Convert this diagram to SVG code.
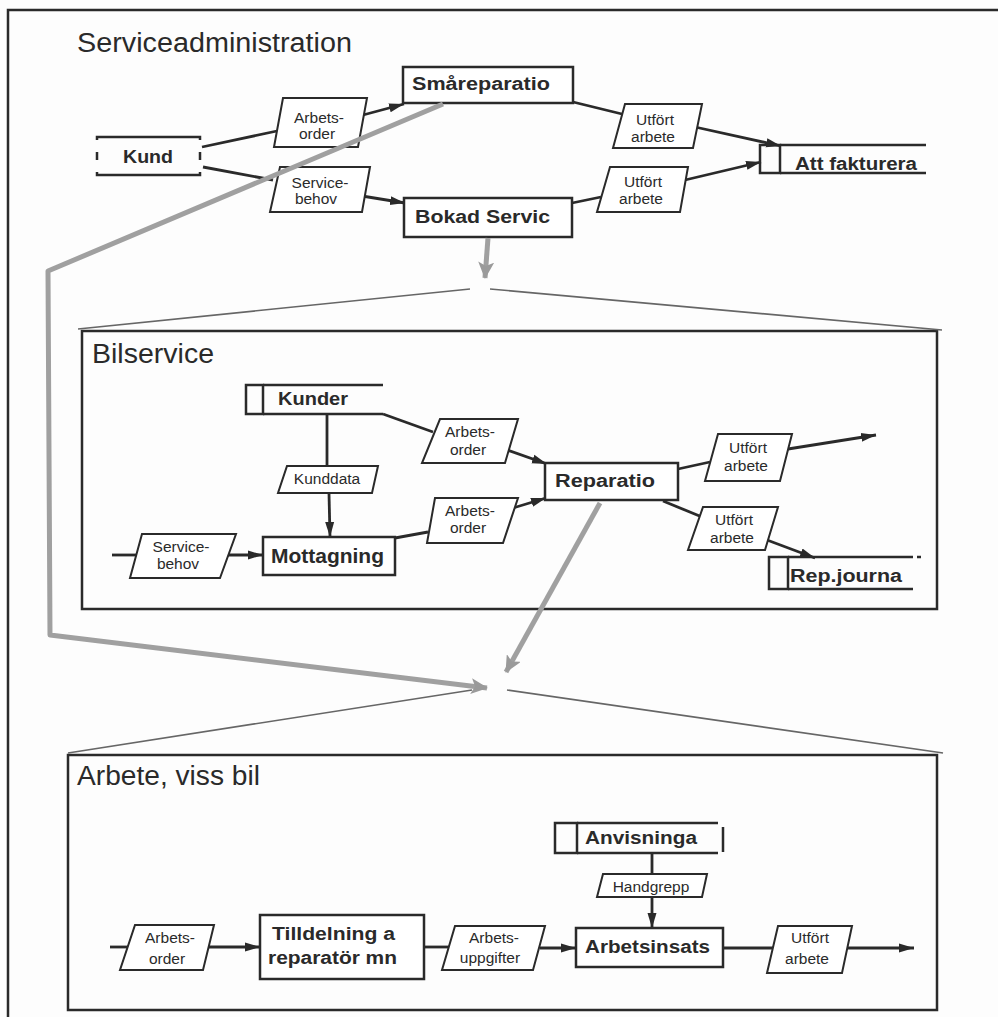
<svg xmlns="http://www.w3.org/2000/svg" width="998" height="1017" viewBox="0 0 998 1017">
<defs>
<marker id="ah" markerUnits="userSpaceOnUse" markerWidth="16" markerHeight="11" refX="15" refY="5.5" orient="auto">
<path d="M0,1 L15,5.5 L0,10 z" fill="#2a2a2a"/>
</marker>
<marker id="gah" markerUnits="userSpaceOnUse" markerWidth="18" markerHeight="16" refX="16" refY="8" orient="auto">
<path d="M0,0 L17,8 L0,16 L4,8 z" fill="#9a9a9a"/>
</marker>
<style>
.frame{fill:none;stroke:#2a2a2a;stroke-width:2.5}
.box{fill:#fff;stroke:#2a2a2a;stroke-width:2.5}
.par{fill:#fff;stroke:#2a2a2a;stroke-width:2}
.st{fill:none;stroke:#2a2a2a;stroke-width:2.5}
.flow{fill:none;stroke:#2a2a2a;stroke-width:2.8}
.arr{marker-end:url(#ah)}
.gray{fill:none;stroke:#a0a0a0;stroke-width:5;stroke-linejoin:round}
.zl{fill:none;stroke:#666;stroke-width:1.6}
.title{font-family:"Liberation Sans",Arial,sans-serif;font-size:27px;fill:#2a2a2a}
.lbl{font-family:"Liberation Sans",Arial,sans-serif;font-size:18px;font-weight:bold;fill:#2a2a2a}
.sm{font-family:"Liberation Sans",Arial,sans-serif;font-size:15.5px;fill:#2a2a2a;text-anchor:middle}
</style>
</defs>
<rect width="998" height="1017" fill="#fdfdfd"/>
<path class="frame" d="M8,1017 L8,10 L998,10"/>

<g id="sec-serviceadministration">
<text class="title" x="77" y="52" textLength="275" lengthAdjust="spacingAndGlyphs">Serviceadministration</text>
</g>
<g id="sec-bilservice">
<rect class="frame" x="82" y="331" width="855" height="278"/>
<text class="title" x="92" y="363" textLength="122" lengthAdjust="spacingAndGlyphs">Bilservice</text>
</g>
<g id="sec-arbete">
<rect class="frame" x="68" y="755" width="869" height="255"/>
<text class="title" x="77" y="785" textLength="183" lengthAdjust="spacingAndGlyphs">Arbete, viss bil</text>
</g>

<g id="connectors">
<path class="flow" d="M202,147 L277,131"/>
<path class="flow arr" d="M363,115 L404,104"/>
<path class="flow" d="M203,167 L273,180"/>
<path class="flow arr" d="M362,196 L405,203"/>
<path class="flow" d="M573,102 L622,114"/>
<path class="flow arr" d="M695,127 L781,146"/>
<path class="flow" d="M572,203 L601,197"/>
<path class="flow arr" d="M685,180 L761,162"/>

<path class="flow" d="M383,414 L433,432"/>
<path class="flow arr" d="M507,450 L547,464"/>
<path class="flow" d="M327,414 L327,466"/>
<path class="flow arr" d="M329,493 L330,537"/>
<path class="flow" d="M112,555 L137,555"/>
<path class="flow arr" d="M225,555 L263,555"/>
<path class="flow" d="M395,538 L428,532"/>
<path class="flow arr" d="M513,508 L546,498"/>
<path class="flow" d="M678,469 L710,462"/>
<path class="flow arr" d="M788,449 L876,435"/>
<path class="flow" d="M663,501 L702,517"/>
<path class="flow arr" d="M767,540 L815,558"/>

<path class="flow" d="M110,947 L130,947"/>
<path class="flow arr" d="M208,947 L260,947"/>
<path class="flow" d="M424,947 L450,947"/>
<path class="flow arr" d="M540,948 L576,948"/>
<path class="flow" d="M652,853 L652,874"/>
<path class="flow arr" d="M652,897 L652,928"/>
<path class="flow" d="M723,948 L773,948"/>
<path class="flow arr" d="M847,948 L914,948"/>
</g>

<g id="kund">
<path class="st" d="M97,140 L97,137 L200,137 L200,140 M97,172 L97,175 L200,175 L200,172 M97,152 L97,160 M200,152 L200,160"/>
<text class="lbl" x="123" y="163" textLength="50" lengthAdjust="spacingAndGlyphs">Kund</text>
</g>
<g id="smareparatio">
<rect class="box" x="403" y="67" width="170" height="36"/>
<text class="lbl" x="412" y="90" textLength="138" lengthAdjust="spacingAndGlyphs">Småreparatio</text>
</g>
<g id="bokad-servic">
<rect class="box" x="404" y="198" width="168" height="39"/>
<text class="lbl" x="415" y="223" textLength="135" lengthAdjust="spacingAndGlyphs">Bokad Servic</text>
</g>
<g id="att-fakturera">
<rect class="st" x="760" y="145" width="20" height="28"/>
<path class="st" d="M780,145 L926,145 M780,173 L926,173"/>
<text class="lbl" x="795" y="170" textLength="122" lengthAdjust="spacingAndGlyphs">Att fakturera</text>
</g>
<g id="ao1">
<polygon class="par" points="283,98 367,98 358,147 274,147"/>
<text class="sm" x="319" y="123">Arbets-</text>
<text class="sm" x="317" y="139">order</text>
</g>
<g id="sb1">
<polygon class="par" points="280,167 370,167 362,212 270,212"/>
<text class="sm" x="320" y="188">Service-</text>
<text class="sm" x="316" y="204">behov</text>
</g>
<g id="ua1">
<polygon class="par" points="625,104 702,104 693,148 613,148"/>
<text class="sm" x="655" y="125">Utfört</text>
<text class="sm" x="653" y="142">arbete</text>
</g>
<g id="ua2">
<polygon class="par" points="610,167 688,167 680,212 597,212"/>
<text class="sm" x="643" y="187">Utfört</text>
<text class="sm" x="641" y="204">arbete</text>
</g>

<g id="kunder">
<rect class="st" x="246" y="385" width="17" height="29"/>
<path class="st" d="M263,385 L383,385 M263,414 L383,414"/>
<text class="lbl" x="278" y="405" textLength="70" lengthAdjust="spacingAndGlyphs">Kunder</text>
</g>
<g id="kunddata">
<polygon class="par" points="287,466 378,466 372,493 278,493"/>
<text class="sm" x="327" y="484">Kunddata</text>
</g>
<g id="mottagning">
<rect class="box" x="263" y="537" width="132" height="38"/>
<text class="lbl" style="font-size:20px" x="271" y="563" textLength="113" lengthAdjust="spacingAndGlyphs">Mottagning</text>
</g>
<g id="sb2">
<polygon class="par" points="142,534 236,534 220,578 130,578"/>
<text class="sm" x="181" y="552">Service-</text>
<text class="sm" x="178" y="569">behov</text>
</g>
<g id="ao2">
<polygon class="par" points="440,419 518,419 505,463 422,463"/>
<text class="sm" x="470" y="437">Arbets-</text>
<text class="sm" x="468" y="455">order</text>
</g>
<g id="ao3">
<polygon class="par" points="435,498 518,498 503,543 427,543"/>
<text class="sm" x="470" y="516">Arbets-</text>
<text class="sm" x="468" y="533">order</text>
</g>
<g id="reparatio">
<rect class="box" x="545" y="463" width="133" height="37"/>
<text class="lbl" x="555" y="487" textLength="100" lengthAdjust="spacingAndGlyphs">Reparatio</text>
</g>
<g id="ua3">
<polygon class="par" points="718,434 792,434 780,481 705,481"/>
<text class="sm" x="748" y="453">Utfört</text>
<text class="sm" x="746" y="471">arbete</text>
</g>
<g id="ua4">
<polygon class="par" points="703,507 778,507 765,550 688,550"/>
<text class="sm" x="734" y="525">Utfört</text>
<text class="sm" x="732" y="543">arbete</text>
</g>
<g id="rep-journa">
<rect class="st" x="769" y="557" width="19" height="32"/>
<path class="st" d="M788,557 L913,557 M917,557 L921,557 M788,589 L913,589"/>
<text class="lbl" x="790" y="582" textLength="112" lengthAdjust="spacingAndGlyphs">Rep.journa</text>
</g>

<g id="ao4">
<polygon class="par" points="135,925 214,925 203,970 120,970"/>
<text class="sm" x="170" y="943">Arbets-</text>
<text class="sm" x="167" y="964">order</text>
</g>
<g id="tilldelning">
<rect class="box" x="260" y="915" width="164" height="64"/>
<text class="lbl" x="272" y="940" textLength="123" lengthAdjust="spacingAndGlyphs">Tilldelning a</text>
<text class="lbl" x="268" y="964" textLength="129" lengthAdjust="spacingAndGlyphs">reparatör mn</text>
</g>
<g id="au">
<polygon class="par" points="455,926 545,926 533,970 442,970"/>
<text class="sm" x="494" y="943">Arbets-</text>
<text class="sm" x="490" y="963">uppgifter</text>
</g>
<g id="anvisninga">
<rect class="st" x="555" y="823" width="22" height="30"/>
<path class="st" d="M577,823 L718,823 M577,853 L718,853 M723,827 L723,852"/>
<text class="lbl" x="585" y="844" textLength="112" lengthAdjust="spacingAndGlyphs">Anvisninga</text>
</g>
<g id="handgrepp">
<polygon class="par" points="603,874 707,874 702,897 597,897"/>
<text class="sm" x="651" y="892">Handgrepp</text>
</g>
<g id="arbetsinsats">
<rect class="box" x="576" y="928" width="147" height="39"/>
<text class="lbl" x="585" y="953" textLength="125" lengthAdjust="spacingAndGlyphs">Arbetsinsats</text>
</g>
<g id="ua5">
<polygon class="par" points="778,926 852,926 842,973 767,973"/>
<text class="sm" x="810" y="943">Utfört</text>
<text class="sm" x="807" y="964">arbete</text>
</g>

<g id="zoomlines">
<path class="gray" d="M443,104 L48,271 L50,635 L487,688" marker-end="url(#gah)"/>
<path class="gray" d="M488,238 L485,278" marker-end="url(#gah)"/>
<path class="gray" d="M600,503 L506,672" marker-end="url(#gah)"/>
<path class="zl" d="M78,329 L470,289"/>
<path class="zl" d="M490,289 L942,330"/>
<path class="zl" d="M68,753 L472,690"/>
<path class="zl" d="M507,690 L943,753"/>
</g>
</svg>
